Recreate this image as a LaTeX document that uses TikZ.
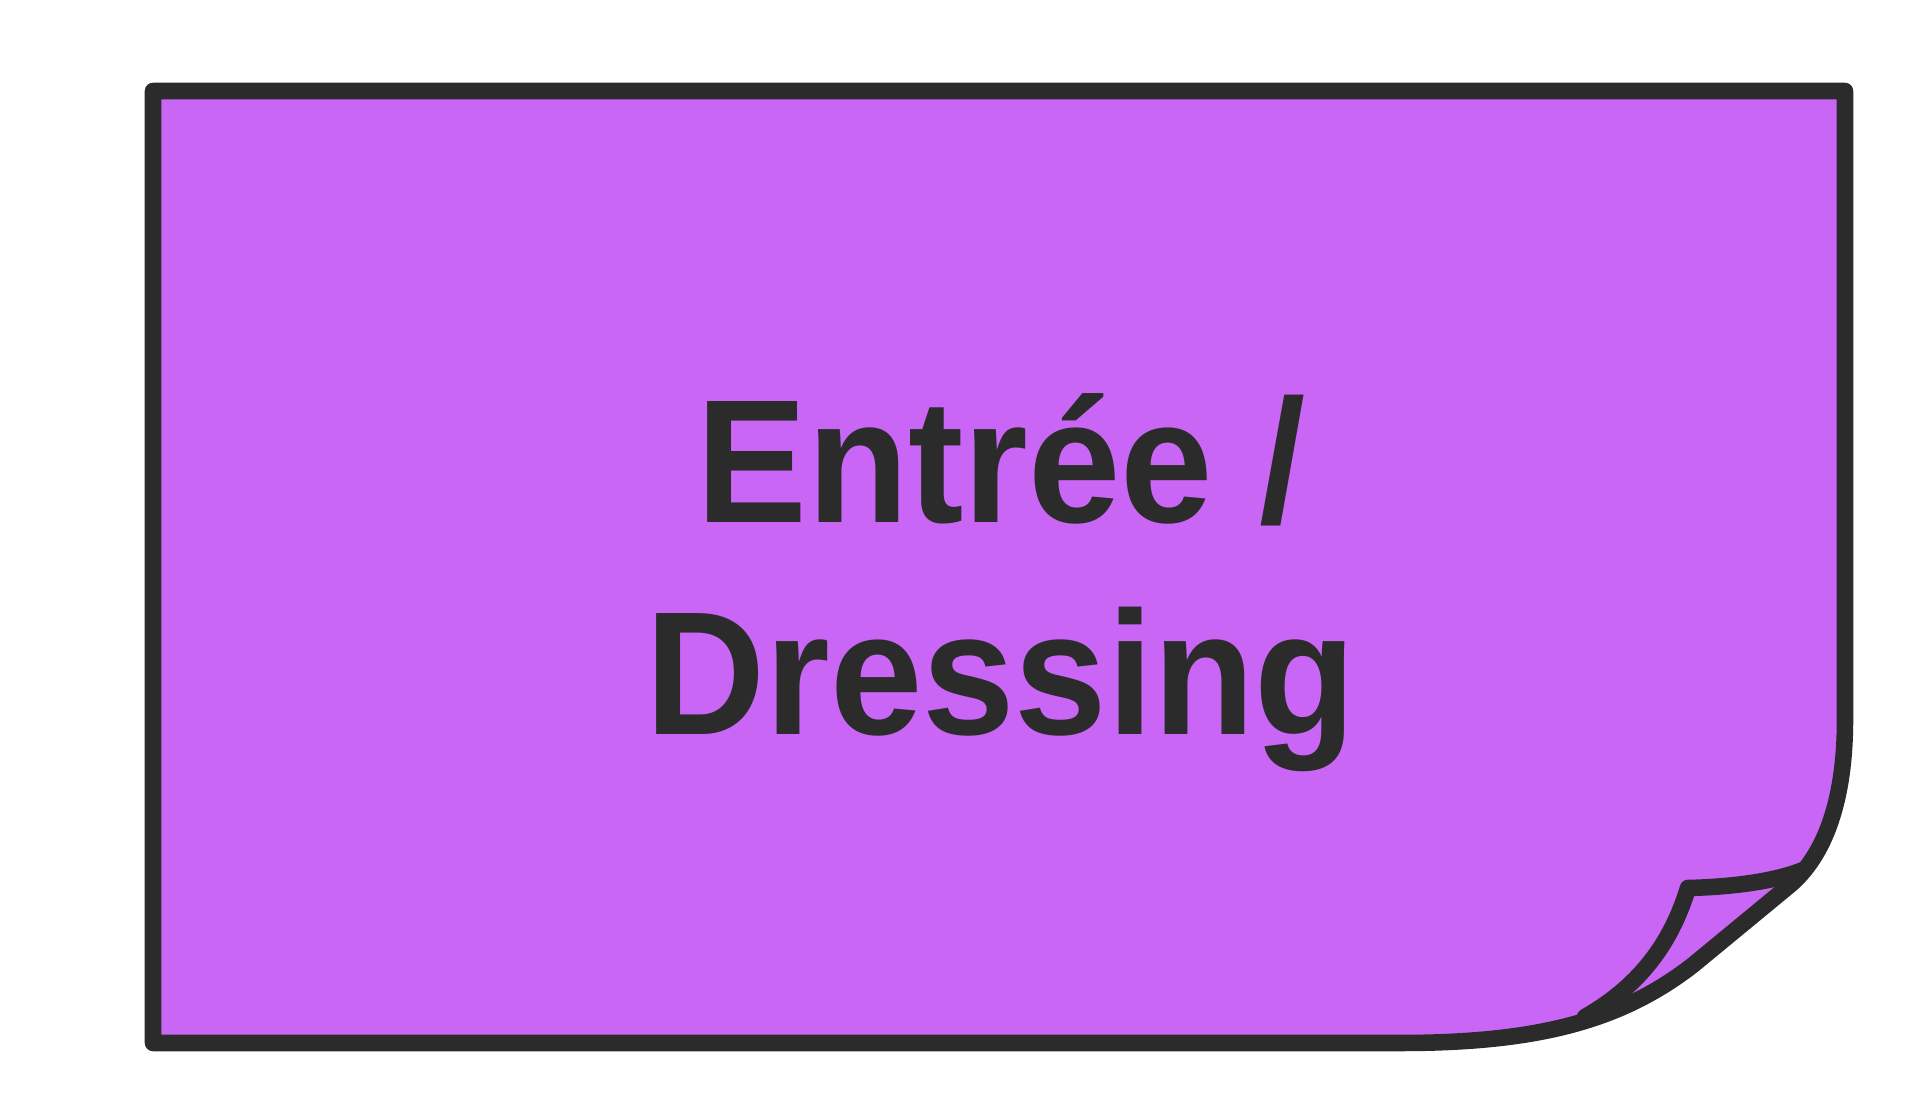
\documentclass[tikz,border=0pt]{standalone}
\usepackage{fontspec}
\usepackage{tikz}
\newfontfamily\notefont[FakeStretch=0.945]{Liberation Sans}
\definecolor{notefill}{HTML}{C966F5}
\definecolor{inkdark}{HTML}{2B2B2B}
\tikzstyle{note}=[draw=inkdark, fill=notefill, line width=4.7pt, line join=round]
\tikzstyle{fold}=[draw=inkdark, line width=4.7pt, line join=round, line cap=round]
\tikzstyle{notetext}=[inner sep=0pt, align=center, text=inkdark,
  font=\notefont\bfseries\fontsize{50}{60.3}\selectfont]
\begin{document}
\begin{tikzpicture}[x=0.01cm, y=-0.01cm]
  \useasboundingbox (0,0) rectangle (1920,1119);
  % sticky note with the lower right corner curled
  \path [note] (153,91) -- (1845,91) -- (1845,720)
    .. controls (1845,800) and (1825,855) .. (1790,885)
    -- (1693,965)
    .. controls (1622,1020) and (1540,1043) .. (1400,1043)
    -- (153,1043) -- cycle;
  \coordinate (curltop) at (1803,870);
  \coordinate (curltip) at (1688,888);
  \coordinate (curlend) at (1585,1017);
  \path [fold] (curltop) .. controls (1773,882) and (1730,887) .. (curltip)
    .. controls (1675,930) and (1650,980) .. (curlend);
  \node [notetext, anchor=base] (entree) at (1001,735) {Entrée /\\Dressing};
\end{tikzpicture}
\end{document}
